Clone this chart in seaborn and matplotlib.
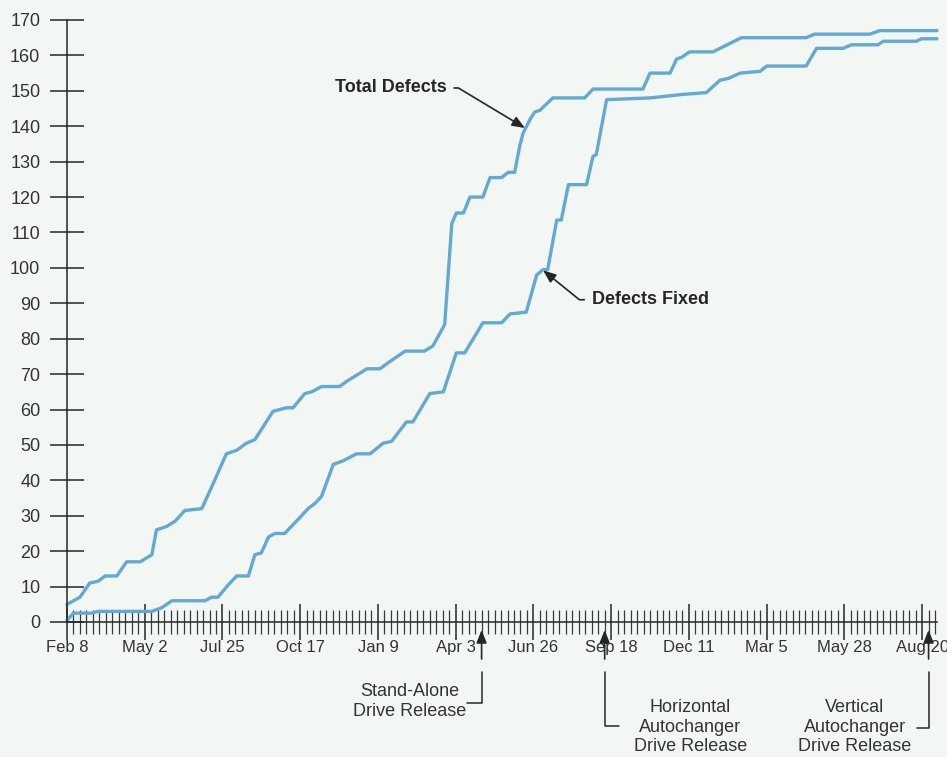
import matplotlib
matplotlib.use("Agg")
import matplotlib.pyplot as plt
import matplotlib.transforms as mtransforms
from matplotlib.ticker import FixedLocator, MultipleLocator
import numpy as np
import pandas as pd
import seaborn as sns


# ----------------------------------------------------------------------
# DATA  (x = weeks since Feb 8, y = cumulative defect count)
# ----------------------------------------------------------------------
weeks_total = [0, 2.0, 3.5, 4.8, 5.9, 7.7, 9.2, 11.3, 13.1, 13.8,
               15.4, 16.7, 18.2, 20.8, 22.3, 24.6, 26.2, 27.7, 29.0, 31.8,
               33.9, 34.9, 36.7, 37.8, 39.3, 42.1, 43.2, 46.3, 48.3, 49.8,
               52.2, 55.2, 56.5, 58.3, 59.4, 60.1, 61.2, 62.2, 64.2, 65.3,
               67.1, 68.1, 69.1, 69.9, 70.4, 71.5, 72.2, 73.0, 75.0, 79.9,
               81.2, 88.9, 90.0, 93.1, 94.1, 94.9, 96.1, 99.7, 104.1, 114.1,
               115.4, 123.9, 125.5, 134.3]
total_defects = [5, 7, 11, 11.5, 13, 13, 17, 17, 19, 26,
                 27, 28.5, 31.5, 32, 38, 47.5, 48.5, 50.5, 51.5, 59.5,
                 60.5, 60.5, 64.5, 65, 66.5, 66.5, 68, 71.5, 71.5, 73.5,
                 76.5, 76.5, 78, 84, 112.5, 115.5, 115.5, 120, 120, 125.5,
                 125.5, 127, 127, 134.5, 138, 142, 144, 144.5, 148, 148,
                 150.5, 150.5, 155, 155, 159, 159.5, 161, 161, 165, 165,
                 166, 166, 167, 167]

weeks_fixed = [0, 1.0, 3.8, 4.8, 13.1, 14.6, 16.2, 21.3, 22.3, 23.3,
               24.9, 26.2, 28.0, 29.0, 30.0, 31.1, 32.1, 33.6, 36.2, 37.2,
               38.3, 39.3, 41.1, 42.6, 44.7, 46.8, 48.8, 50.1, 52.4, 53.4,
               56.0, 58.1, 60.1, 61.4, 64.2, 67.1, 68.4, 70.9, 72.5, 73.5,
               74.2, 75.6, 76.3, 77.4, 80.2, 81.2, 81.7, 83.3, 90.0, 95.1,
               98.7, 100.8, 102.1, 103.9, 107.0, 108.0, 114.1, 115.7, 119.8, 121.1,
               125.2, 126.0, 131.1, 131.9, 134.3]
defects_fixed = [0.5, 2.5, 2.5, 3, 3, 4, 6, 6, 7, 7,
                 10.5, 13, 13, 19, 19.5, 24, 25, 25, 30, 32,
                 33.5, 35.5, 44.5, 45.5, 47.5, 47.5, 50.5, 51, 56.5, 56.5,
                 64.5, 65, 76, 76, 84.5, 84.5, 87, 87.5, 98, 99.5,
                 99.5, 113.5, 113.5, 123.5, 123.5, 131.5, 132, 147.5, 148, 149,
                 149.5, 153, 153.5, 155, 155.5, 157, 157, 162, 162, 163,
                 163, 164, 164, 164.7, 164.7]

major_weeks = [0, 12, 24, 36, 48, 60, 72, 84, 96, 108, 120, 132]
date_labels = ["Feb 8", "May 2", "Jul 25", "Oct 17", "Jan 9", "Apr 3",
               "Jun 26", "Sep 18", "Dec 11", "Mar 5", "May 28", "Aug 20"]
y_ticks = list(range(0, 171, 10))

release_weeks = [64, 83, 133]
release_labels = ["Stand-Alone\nDrive Release",
                  "Horizontal\nAutochanger\nDrive Release",
                  "Vertical\nAutochanger\nDrive Release"]

# ----------------------------------------------------------------------
# STYLE
# ----------------------------------------------------------------------
BG = "#f3f7f4"
LINE = "#62a9d3"
INK = "#262626"
W, H = 947, 757

sns.set_theme(style="white")
plt.rcParams["font.family"] = ["Liberation Sans", "DejaVu Sans"]


def fy(px):
    # figure-fraction y from a pixel row measured from the top
    return 1 - px / H


df = pd.concat([
    pd.DataFrame({"week": weeks_total, "defects": total_defects, "series": "Total Defects"}),
    pd.DataFrame({"week": weeks_fixed, "defects": defects_fixed, "series": "Defects Fixed"}),
], ignore_index=True)

fig = plt.figure(figsize=(W / 100, H / 100), dpi=100, facecolor=BG)
ax = fig.add_axes([67 / W, 135 / H, 870 / W, 602 / H])
ax.set_facecolor(BG)

sns.lineplot(data=df, x="week", y="defects", units="series", estimator=None,
             sort=False, color=LINE, linewidth=2.4, ax=ax, clip_on=False,
             legend=False)

ax.set_xlim(0, 134.3)
ax.set_ylim(0, 170)
ax.set_xlabel("")
ax.set_ylabel("")

for side in ["top", "right"]:
    ax.spines[side].set_visible(False)
for side in ["left", "bottom"]:
    ax.spines[side].set_color(INK)
    ax.spines[side].set_linewidth(1.1)

ax.xaxis.set_major_locator(FixedLocator(major_weeks))
ax.xaxis.set_minor_locator(MultipleLocator(1))
ax.set_xticklabels(date_labels)
ax.set_yticks(y_ticks)

# seaborn's white style hides ticks, switch them back on
ax.tick_params(axis="y", which="major", left=True, direction="inout",
               length=24.5, width=1.1, pad=7, labelsize=13, color=INK,
               labelcolor="#333333")
ax.tick_params(axis="x", which="major", bottom=True, direction="inout",
               length=26.6, width=1.1, pad=0, labelsize=12, color=INK,
               labelcolor="#333333")
ax.tick_params(axis="x", which="minor", bottom=True, direction="inout",
               length=17.3, width=0.9, color="#3a3a3a")

# ----------------------------------------------------------------------
# Series call-outs
# ----------------------------------------------------------------------
arrow_kw = dict(arrowstyle="-|>,head_length=0.55,head_width=0.22", color=INK,
                lw=1.2, mutation_scale=14, shrinkA=3, shrinkB=0)

ax.annotate("Total Defects", xy=(70.7, 139.5), xytext=(58.6, 150.8),
            ha="right", va="center", fontsize=13, fontweight="bold", color=INK,
            arrowprops=dict(connectionstyle="angle,angleA=0,angleB=149,rad=0",
                            **arrow_kw))
ax.annotate("Defects Fixed", xy=(73.5, 99.3), xytext=(81.0, 91.0),
            ha="left", va="center", fontsize=13, fontweight="bold", color=INK,
            arrowprops=dict(connectionstyle="angle,angleA=0,angleB=-39,rad=0",
                            **arrow_kw))

# ----------------------------------------------------------------------
# Release markers under the time axis
# ----------------------------------------------------------------------
trans = mtransforms.blended_transform_factory(ax.transData, fig.transFigure)
bracket_ends = [(-2.2, 703), (2.2, 726), (-1.8, 728)]
text_pos = [(52.9, 701.5), (96.2, 727), (121.6, 727)]

for wk, label, (dx, corner), (tx, ty) in zip(release_weeks, release_labels,
                                              bracket_ends, text_pos):
    ax.annotate("", xy=(wk, fy(630)), xytext=(wk, fy(659)),
                xycoords=trans, textcoords=trans, annotation_clip=False,
                arrowprops=dict(arrowstyle="-|>,head_length=0.55,head_width=0.22",
                                color=INK, lw=1.2, mutation_scale=14,
                                shrinkA=0, shrinkB=0))
    ax.plot([wk, wk, wk + dx], [fy(672), fy(corner), fy(corner)],
            transform=trans, color=INK, lw=1.1, clip_on=False)
    ax.text(tx, fy(ty), label, transform=trans, ha="center", va="center",
            fontsize=13, color="#333333", linespacing=1.2)

fig.savefig("out.png", dpi=100, facecolor=BG)
